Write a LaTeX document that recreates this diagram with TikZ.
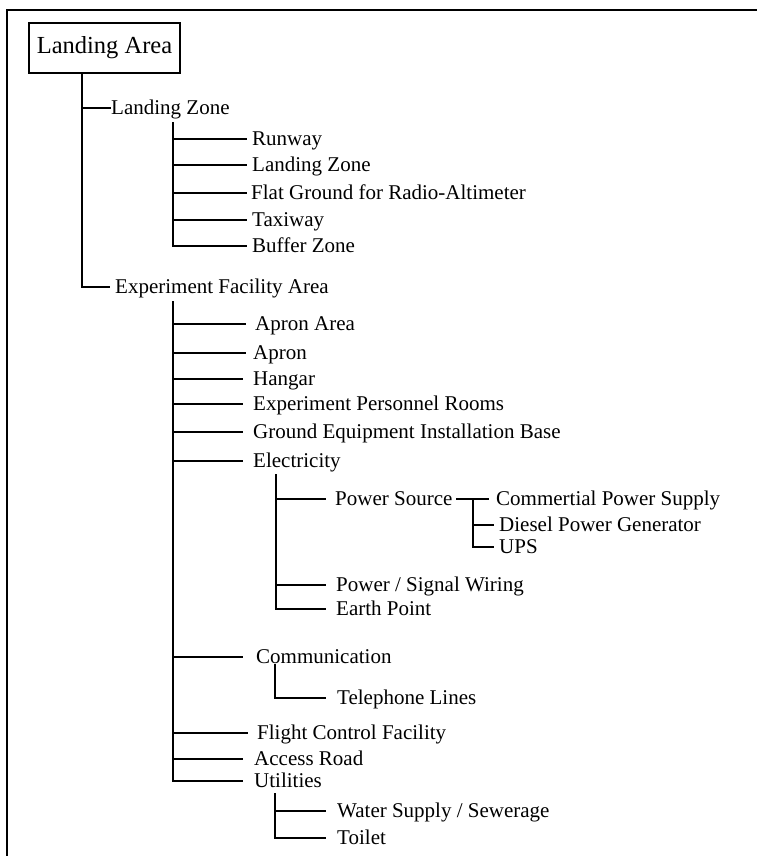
\documentclass[tikz,border=0pt]{standalone}
\usepackage{fontspec}
\setmainfont{Liberation Serif}
\newcommand\branchto[3]{\draw[ln] (#1 |- #2.west) -- ([xshift=-#3pt]#2.west);}
\begin{document}
\begin{tikzpicture}[x=1pt,y=-1pt,
  lbl/.style={anchor=west, inner sep=0pt, text height=13.9pt, text depth=0pt,
              font=\fontsize{21}{21}\selectfont},
  ln/.style={line width=2.5pt, line cap=rect},
  rootbox/.style={draw, line width=2.6pt, minimum width=151pt, minimum height=50pt,
              inner sep=0pt, font=\fontsize{24.5}{24.5}\selectfont},
  frame/.style={line width=2.8pt}
]
\useasboundingbox (0,0) rectangle (757,856);
% outer frame
\coordinate (fbl) at (7,858);
\coordinate (ftl) at (7,10);
\coordinate (ftr) at (759,10);
\draw[frame] (fbl) -- (ftl) -- (ftr);

% root
\node[rootbox] (root) at (104.5,48) {Landing Area};

% level 1
\node[lbl] (lz)  at (111,108) {Landing Zone};
\node[lbl] (efa) at (115,287) {Experiment Facility Area};
\coordinate (T0) at (82,0);
\draw[ln] (T0 |- root.south) -- (T0 |- efa.west);
\branchto{T0}{lz}{1}
\branchto{T0}{efa}{6}

% Landing Zone children
\node[lbl] (rw)  at (252,139) {Runway};
\node[lbl] (lz2) at (252,165) {Landing Zone};
\node[lbl] (fg)  at (251,193) {Flat Ground for Radio-Altimeter};
\node[lbl] (tw)  at (252,220) {Taxiway};
\node[lbl] (bz)  at (252,246) {Buffer Zone};
\coordinate (T1) at (173,123);
\draw[ln] (T1) -- (T1 |- bz.west);
\branchto{T1}{rw}{6}
\branchto{T1}{lz2}{6}
\branchto{T1}{fg}{5}
\branchto{T1}{tw}{6}
\branchto{T1}{bz}{6}

% Experiment Facility Area children
\node[lbl] (aa)   at (255,324) {Apron Area};
\node[lbl] (ap)   at (253,353) {Apron};
\node[lbl] (hg)   at (253,379) {Hangar};
\node[lbl] (epr)  at (253,404) {Experiment Personnel Rooms};
\node[lbl] (geib) at (253,432) {Ground Equipment Installation Base};
\node[lbl] (el)   at (253,461) {Electricity};
\node[lbl] (com)  at (256,657) {Communication};
\node[lbl] (fcf)  at (257,733) {Flight Control Facility};
\node[lbl] (ar)   at (254,759) {Access Road};
\node[lbl] (ut)   at (254,781) {Utilities};
\coordinate (T2) at (173,302);
\draw[ln] (T2) -- (T2 |- ut.west);
\branchto{T2}{aa}{10}
\branchto{T2}{ap}{8}
\branchto{T2}{hg}{11}
\branchto{T2}{epr}{11}
\branchto{T2}{geib}{11}
\branchto{T2}{el}{11}
\branchto{T2}{com}{14}
\branchto{T2}{fcf}{10}
\branchto{T2}{ar}{12}
\branchto{T2}{ut}{12}

% Electricity children
\node[lbl] (ps)  at (335,499) {Power Source};
\node[lbl] (psw) at (336,585) {Power / Signal Wiring};
\node[lbl] (ep)  at (336,609) {Earth Point};
\coordinate (T3) at (276,475);
\draw[ln] (T3) -- (T3 |- ep.west);
\branchto{T3}{ps}{10}
\branchto{T3}{psw}{11}
\branchto{T3}{ep}{11}

% Power Source children
\node[lbl] (cps) at (496,499) {Commertial Power Supply};
\node[lbl] (dpg) at (499,525) {Diesel Power Generator};
\node[lbl] (ups) at (499,547) {UPS};
\coordinate (T4) at (473,0);
\draw[ln] ([xshift=5pt]ps.east) -- ([xshift=-8pt]cps.west);
\draw[ln] (T4 |- cps.west) -- (T4 |- ups.west);
\branchto{T4}{dpg}{6}
\branchto{T4}{ups}{6}

% Communication children
\node[lbl] (tel) at (337,698) {Telephone Lines};
\coordinate (T5) at (275,665);
\draw[ln] (T5) -- (T5 |- tel.west);
\branchto{T5}{tel}{12}

% Utilities children
\node[lbl] (ws)  at (337,811) {Water Supply / Sewerage};
\node[lbl] (toi) at (337,838) {Toilet};
\coordinate (T6) at (275,794);
\draw[ln] (T6) -- (T6 |- toi.west);
\branchto{T6}{ws}{12}
\branchto{T6}{toi}{12}
\end{tikzpicture}
\end{document}
